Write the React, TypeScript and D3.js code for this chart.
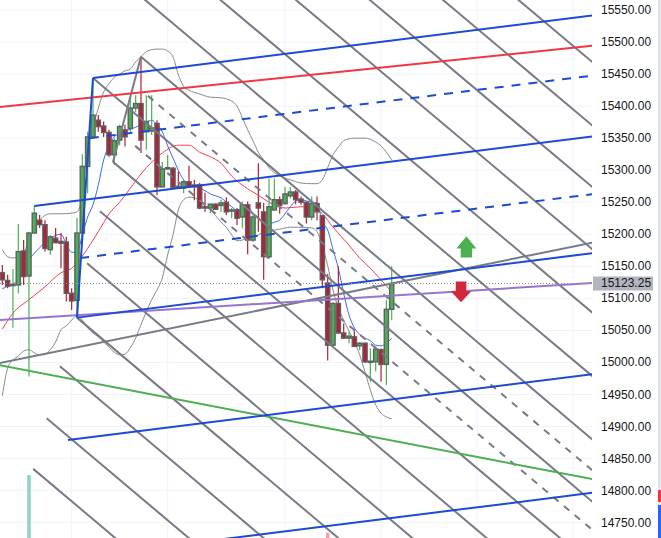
import * as d3 from "d3";
import { useEffect, useRef } from "react";

// ---- price axis ----
const priceTicks = [15550, 15500, 15450, 15400, 15350, 15300, 15250, 15200, 15150, 15100, 15050, 15000, 14950, 14900, 14850, 14800, 14750];
const timeGridBars = [13, 31, 53, 71, 89, 107];
const lastPrice = 15123.25;

// ---- candles (one per bar) ----
const opens = [15140, 15128, 15120, 15121, 15174, 15135, 15202, 15222, 15215, 15176, 15194, 15189, 15188, 15108, 15097, 15202, 15306, 15352, 15378, 15369, 15359, 15324, 15347, 15363, 15365, 15397, 15404, 15360, 15361, 15373, 15274, 15302, 15303, 15275, 15272, 15282, 15277, 15277, 15243, 15241, 15247, 15245, 15250, 15237, 15238, 15227, 15246, 15191, 15249, 15235, 15165, 15238, 15254, 15248, 15260, 15266, 15255, 15250, 15227, 15248, 15229, 15124, 15027, 15092, 15046, 15038, 15040, 15026, 15030, 15001, 15001, 15020, 14997, 15083];
const highs = [15152, 15137, 15146, 15216, 15191, 15204, 15244, 15230, 15222, 15199, 15210, 15202, 15196, 15116, 15226, 15325, 15360, 15444, 15386, 15376, 15363, 15350, 15371, 15371, 15412, 15417, 15477, 15417, 15417, 15378, 15313, 15324, 15305, 15298, 15285, 15307, 15285, 15280, 15265, 15248, 15248, 15254, 15258, 15241, 15241, 15251, 15251, 15230, 15311, 15249, 15287, 15287, 15259, 15274, 15274, 15269, 15259, 15251, 15259, 15259, 15230, 15138, 15094, 15150, 15061, 15048, 15051, 15032, 15031, 15022, 15025, 15022, 15098, 15150];
const lows = [15121, 15116, 15054, 15108, 15121, 14978, 15202, 15210, 15173, 15168, 15186, 15147, 15095, 15082, 15070, 15199, 15264, 15350, 15360, 15352, 15321, 15308, 15339, 15337, 15360, 15391, 15327, 15332, 15355, 15261, 15273, 15301, 15271, 15272, 15264, 15272, 15253, 15239, 15235, 15233, 15238, 15235, 15230, 15225, 15214, 15209, 15169, 15188, 15204, 15129, 15162, 15237, 15232, 15246, 15256, 15247, 15246, 15217, 15222, 15222, 15116, 15003, 15026, 15045, 15037, 15030, 15024, 15019, 14999, 14970, 14986, 14970, 14965, 15066];
const closes = [15129, 15119, 15122, 15173, 15134, 15202, 15233, 15215, 15178, 15196, 15187, 15186, 15108, 15096, 15202, 15306, 15352, 15386, 15368, 15359, 15324, 15346, 15368, 15352, 15397, 15404, 15347, 15376, 15366, 15274, 15302, 15304, 15273, 15273, 15282, 15274, 15274, 15241, 15241, 15247, 15239, 15249, 15235, 15238, 15225, 15246, 15191, 15227, 15241, 15165, 15243, 15254, 15245, 15263, 15266, 15254, 15250, 15227, 15248, 15235, 15129, 15027, 15092, 15046, 15038, 15041, 15025, 15030, 15001, 15002, 15021, 14997, 15083, 15123.25];

// ---- volume (only the bars tall enough to show) ----
const volumeBars = [5, 61];
const volumeValues = [31500, 2600];

// ---- indicators: [bar, price] ----
const fastMA: [number, number][] = [[0, 15115], [1, 15119], [3, 15129], [5, 15160], [7, 15179], [9, 15194], [11, 15200], [12, 15185], [13, 15172], [14, 15172], [15, 15199], [16, 15227], [17, 15246], [18, 15277], [19, 15316], [20, 15339], [21, 15352], [22, 15358], [23, 15361], [24, 15364], [25, 15367], [26, 15371], [27, 15375], [28, 15378], [29, 15371], [30, 15360], [31, 15338], [32, 15319], [33, 15300], [34, 15285], [35, 15277], [36, 15275], [37, 15272], [38, 15268], [39, 15263], [40, 15260], [41, 15257], [42, 15250], [43, 15243], [44, 15238], [45, 15240], [46, 15243], [47, 15233], [48, 15226], [49, 15219], [50, 15216], [51, 15219], [52, 15222], [53, 15232], [54, 15243], [55, 15252], [56, 15254], [57, 15252], [58, 15250], [59, 15249], [60, 15219], [61, 15207], [62, 15176], [63, 15147], [64, 15108], [65, 15074], [66, 15054], [67, 15044], [68, 15038], [69, 15034], [70, 15027], [71, 15026], [72, 15030], [73, 15038]];
const slowMA: [number, number][] = [[0, 15052], [2, 15077], [5, 15098], [8, 15118], [11, 15140], [13, 15147], [15, 15166], [17, 15191], [19, 15218], [20, 15232], [22, 15250], [24, 15272], [27, 15304], [30, 15327], [33, 15339], [35, 15339], [37, 15328], [39, 15321], [41, 15311], [43, 15291], [46, 15271], [48, 15261], [50, 15250], [53, 15241], [56, 15243], [58, 15243], [60, 15232], [62, 15211], [65, 15183], [67, 15163], [69, 15147], [71, 15129], [73, 15110]];
const bandUpper: [number, number][] = [[0, 15176], [1, 15165], [2, 15163], [4, 15172], [5, 15191], [6, 15208], [7, 15222], [9, 15232], [11, 15232], [13, 15233], [14, 15235], [15, 15261], [16, 15334], [17, 15366], [18, 15397], [19, 15422], [20, 15435], [21, 15445], [22, 15450], [23, 15455], [24, 15458], [25, 15469], [26, 15477], [27, 15485], [28, 15488], [29, 15489], [30, 15489], [31, 15486], [32, 15477], [33, 15449], [34, 15431], [35, 15425], [37, 15419], [39, 15414], [41, 15413], [43, 15408], [44, 15400], [45, 15382], [46, 15363], [47, 15346], [48, 15328], [49, 15316], [50, 15304], [52, 15291], [54, 15285], [56, 15280], [58, 15279], [59, 15279], [60, 15285], [61, 15304], [62, 15324], [63, 15336], [64, 15346], [65, 15349], [66, 15350], [68, 15350], [70, 15344], [71, 15338], [72, 15328], [73, 15316]];
const bandLower: [number, number][] = [[0, 14948], [1, 14991], [2, 15004], [3, 15010], [4, 15018], [5, 15020], [6, 15015], [7, 15012], [8, 15013], [9, 15020], [10, 15032], [11, 15051], [12, 15057], [13, 15066], [14, 15073], [15, 15066], [16, 15054], [17, 15046], [18, 15040], [19, 15032], [20, 15024], [21, 15016], [22, 15012], [23, 15013], [24, 15023], [25, 15038], [26, 15059], [27, 15079], [28, 15098], [29, 15113], [30, 15132], [31, 15168], [32, 15199], [33, 15238], [34, 15254], [35, 15258], [36, 15257], [37, 15252], [38, 15244], [39, 15238], [40, 15229], [41, 15219], [42, 15211], [43, 15199], [44, 15190], [45, 15191], [46, 15194], [47, 15197], [48, 15199], [49, 15204], [50, 15205], [52, 15208], [54, 15211], [56, 15211], [58, 15210], [59, 15204], [60, 15182], [61, 15151], [62, 15113], [63, 15085], [64, 15066], [65, 15049], [66, 15032], [67, 15012], [68, 14985], [69, 14957], [70, 14934], [71, 14921], [72, 14915], [73, 14912]];

// ---- drawings: [bar1, price1, bar2, price2] ----
const forkHandle = [14, 15070, 17, 15444];
const forkSolid = [
  [17, 15444, 110, 15541],
  [6, 15244, 110, 15352],
  [14, 15070, 110, 15170],
  [12.3, 14879, 110, 14981],
  [12.3, 14694, 110, 14796],
];
const forkDashed = [
  [16.4, 15350, 110, 15447],
  [14.6, 15163, 110, 15262],
];
const fanSolid = [
  [0, 16243, 110, 15473],
  [0, 16144, 110, 15374],
  [0, 16048, 110, 15278],
  [0, 15951, 110, 15181],
  [0, 15852, 110, 15082],
  [0, 15753, 110, 14983],
  [26, 15477, 110, 14884],
  [17, 15444, 110, 14787],
  [20.75, 15313, 110, 14688],
  [18.3, 15236, 110, 14591],
  [15.9, 15155, 110, 14493],
  [14, 15070, 110, 14396],
  [10.8, 14994, 110, 14298],
  [8.3, 14913, 110, 14200],
  [5.8, 14834, 110, 14103],
];
const fanDashed = [
  [27.3, 15416, 110, 14836],
  [24.9, 15338, 110, 14743],
];
const fanBase = [26, 15477, 20.75, 15313];
const redTrend = [0, 15399, 100, 15485];
const greenTrend = [0, 14995, 100, 14835];
const purpleTrend = [0, 15066.5, 100, 15118.5];
const grayTrend = [0, 15000, 100, 15169];

// arrow marks: [bar, price of tip]
const upArrows = [[87, 15197]];
const downArrows = [[86, 15094]];

export default function App() {
  const svgRef = useRef<SVGSVGElement | null>(null);
  useEffect(() => {
    if (!svgRef.current) return;
    drawChart(svgRef.current);
  }, []);
  return (
    <>
      <style>{`body{margin:0;}`}</style>
      <svg ref={svgRef} width={661} height={538} style={{ display: "block" }} />
    </>
  );
}

function drawChart(svgElement: SVGSVGElement) {
  const svg = d3.select(svgElement);
  svg.selectAll("*").remove();

  const plotW = 592;
  const height = 538;
  const font = "'Liberation Sans', Arial, sans-serif";

  const x = d3.scaleLinear().domain([0, 73]).range([2.3, 391.7]);
  const y = d3.scaleLinear().domain([14750, 15550]).range([522.7, 10]);
  const vol = d3.scaleLinear().domain([0, 100000]).range([0, 200]);

  svg.append("rect").attr("width", 661).attr("height", height).attr("fill", "#ffffff");

  svg.append("defs").append("clipPath").attr("id", "plot-clip")
    .append("rect").attr("width", plotW).attr("height", height);

  const plot = svg.append("g").attr("clip-path", "url(#plot-clip)");

  // --- grid ---
  plot.selectAll(".hgrid").data(priceTicks).join("line")
    .attr("x1", 0).attr("x2", plotW)
    .attr("y1", d => y(d)).attr("y2", d => y(d))
    .attr("stroke", "#f0f3fa").attr("stroke-width", 1);
  plot.selectAll(".vgrid").data(timeGridBars).join("line")
    .attr("x1", d => x(d)).attr("x2", d => x(d))
    .attr("y1", 0).attr("y2", height)
    .attr("stroke", "#f0f3fa").attr("stroke-width", 1);

  // --- volume ---
  plot.selectAll(".vol").data(volumeBars).join("rect")
    .attr("x", d => x(d) - 1.8)
    .attr("width", 3.6)
    .attr("y", (d, i) => height - vol(volumeValues[i]))
    .attr("height", (d, i) => vol(volumeValues[i]))
    .attr("fill", (d) => closes[d] >= opens[d] ? "#92d3cb" : "#f5a3a0");

  // --- indicator lines ---
  const line = d3.line<[number, number]>()
    .x(d => x(d[0])).y(d => y(d[1]))
    .curve(d3.curveMonotoneX);

  plot.append("path").attr("d", line(bandUpper)).attr("fill", "none")
    .attr("stroke", "#8a8a8a").attr("stroke-width", 1);
  plot.append("path").attr("d", line(bandLower)).attr("fill", "none")
    .attr("stroke", "#8a8a8a").attr("stroke-width", 1);
  plot.append("path").attr("d", line(slowMA)).attr("fill", "none")
    .attr("stroke", "#f4434f").attr("stroke-width", 1);
  plot.append("path").attr("d", line(fastMA)).attr("fill", "none")
    .attr("stroke", "#3b6cf2").attr("stroke-width", 1);

  // --- candles ---
  const bars = d3.range(opens.length);
  const upWick = "#4caf50";
  const downWick = "#b3202f";
  plot.selectAll(".wick").data(bars).join("line")
    .attr("x1", d => x(d)).attr("x2", d => x(d))
    .attr("y1", d => y(highs[d])).attr("y2", d => y(lows[d]))
    .attr("stroke", d => closes[d] >= opens[d] ? upWick : downWick)
    .attr("stroke-width", 1.2);
  plot.selectAll(".body").data(bars).join("rect")
    .attr("x", d => x(d) - 2.1)
    .attr("width", 4.2)
    .attr("y", d => y(Math.max(opens[d], closes[d])))
    .attr("height", d => Math.max(1.2, Math.abs(y(opens[d]) - y(closes[d]))))
    .attr("fill", d => closes[d] >= opens[d] ? upWick : downWick)
    .attr("stroke", "#5d6068")
    .attr("stroke-width", 1.4);

  // --- drawing tools ---
  const seg = (l: number[], extend: "none" | "right" | "both") => {
    const x1 = x(l[0]), y1 = y(l[1]), x2 = x(l[2]), y2 = y(l[3]);
    const m = (y2 - y1) / (x2 - x1);
    let ax = x1, ay = y1, bx = x2, by = y2;
    if (extend !== "none") { bx = plotW + 20; by = y1 + m * (bx - x1); }
    if (extend === "both") { ax = -20; ay = y1 + m * (ax - x1); }
    return [ax, ay, bx, by];
  };
  const drawSeg = (l: number[], extend: "none" | "right" | "both", color: string, width: number, dash?: string) => {
    const [ax, ay, bx, by] = seg(l, extend);
    const ln = plot.append("line")
      .attr("x1", ax).attr("y1", ay).attr("x2", bx).attr("y2", by)
      .attr("stroke", color).attr("stroke-width", width)
      .attr("stroke-linecap", "butt");
    if (dash) ln.attr("stroke-dasharray", dash);
  };

  const gray = "#787b86";
  const blue = "#1d4bd0";

  fanSolid.forEach(l => drawSeg(l, "right", gray, 2));
  fanDashed.forEach(l => drawSeg(l, "right", gray, 2, "7 7"));
  drawSeg(fanBase, "none", gray, 2);

  drawSeg(grayTrend, "both", gray, 2);
  drawSeg(greenTrend, "both", "#4caf50", 2);
  drawSeg(redTrend, "both", "#f23645", 2);
  drawSeg(purpleTrend, "both", "#9575cd", 2);

  forkSolid.forEach(l => drawSeg(l, "right", blue, 2));
  forkDashed.forEach(l => drawSeg(l, "right", blue, 2, "9 8"));
  drawSeg(forkHandle, "none", blue, 2);

  // --- last price line ---
  plot.append("line")
    .attr("x1", 0).attr("x2", plotW)
    .attr("y1", y(lastPrice)).attr("y2", y(lastPrice))
    .attr("stroke", "#8f929b").attr("stroke-width", 1)
    .attr("stroke-dasharray", "1 2");

  // --- arrows ---
  const upShape = [[0, 0], [10, 12.3], [5.7, 12.3], [5.7, 21.3], [-5.7, 21.3], [-5.7, 12.3], [-10, 12.3]];
  const downShape = [[0, 0], [10.3, -11], [5.3, -11], [5.3, -20.7], [-5.3, -20.7], [-5.3, -11], [-10.3, -11]];
  plot.selectAll(".up-arrow").data(upArrows).join("polygon")
    .attr("points", d => upShape.map(p => `${x(d[0]) + p[0]},${y(d[1]) + p[1]}`).join(" "))
    .attr("fill", "#4caf50");
  plot.selectAll(".down-arrow").data(downArrows).join("polygon")
    .attr("points", d => downShape.map(p => `${x(d[0]) + p[0]},${y(d[1]) + p[1]}`).join(" "))
    .attr("fill", "#d0293b");

  // --- price axis ---
  const axis = svg.append("g");
  axis.selectAll(".tick-label").data(priceTicks).join("text")
    .attr("x", 601).attr("y", d => y(d))
    .attr("dominant-baseline", "central")
    .attr("font-family", font).attr("font-size", 12)
    .attr("fill", "#131722")
    .text(d => d.toFixed(2));

  axis.append("rect")
    .attr("x", 593).attr("y", y(lastPrice) - 7)
    .attr("width", 60).attr("height", 14)
    .attr("fill", "#b2b5be");
  axis.append("text")
    .attr("x", 601).attr("y", y(lastPrice))
    .attr("dominant-baseline", "central")
    .attr("font-family", font).attr("font-size", 12)
    .attr("fill", "#131722")
    .text(lastPrice.toFixed(2));

  // right edge strip
  svg.append("rect").attr("x", 658).attr("y", 0).attr("width", 3).attr("height", height).attr("fill", "#e0e3eb");
  svg.append("rect").attr("x", 658).attr("y", 490).attr("width", 3).attr("height", 12).attr("fill", "#f23645");
  svg.append("rect").attr("x", 658).attr("y", 505).attr("width", 3).attr("height", 33).attr("fill", "#2962ff");
}
